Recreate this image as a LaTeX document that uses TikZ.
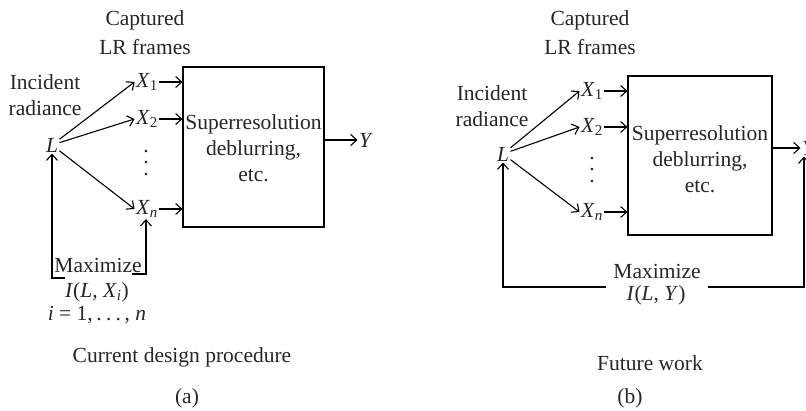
\documentclass[tikz,border=0pt]{standalone}
\usepackage{fontspec}
\setmainfont{Liberation Serif}
\usetikzlibrary{arrows.meta}
\newcommand\vi[1]{\textit{#1}}
\newcommand\Xs[1]{\textit{X}\textsubscript{#1}}
\newcommand\blocktext[1]{\raisebox{#1}[\height][\depth]{\begin{tabular}{@{}c@{}}Superresolution\\deblurring,\\etc.\end{tabular}}}
\newcommand\mydots{.\hspace{0.2em}.\hspace{0.2em}.}
\begin{document}
\begin{tikzpicture}[x=1pt,y=-1pt,
  font=\fontsize{21.5}{26}\selectfont,
  line width=1.1pt,
  arr/.style={-{Straight Barb[length=6pt,width=11pt,line width=1.1pt]}},
  lbl/.style={inner sep=1pt, align=center, text=black!85},
  vdotstyle/.style={inner sep=0pt, align=center, text=black!85, font=\fontsize{21.5}{11.5}\selectfont},
  blk/.style={draw, inner sep=0pt, align=center, text=black!85}]
\useasboundingbox (0,0) rectangle (806,411);

% ---------- panel (a) ----------
\node[lbl] (capA) at (145,33) {Captured\\[3pt]LR frames};
\node[lbl] (incA) at (45,95) {Incident\\radiance};
\node[lbl] (LA) at (52,145) {\vi{L}};
\node[lbl] (X1A) at (147,82) {\Xs{1}};
\node[lbl] (X2A) at (147,119) {\Xs{2}};
\node[vdotstyle] (dA) at (146,163) {.\\.\\.};
\node[lbl] (XnA) at (147,209) {\Xs{\vi{n}}};
\node[blk, minimum width=141pt, minimum height=160pt] (boxA) at (253.5,147) {\blocktext{-3pt}};
\node[lbl] (YA) at (366,140) {\vi{Y}};
\node[lbl] (maxA) at (98,265) {Maximize};
\node[lbl] (iA) at (97,292) {\vi{I}(\vi{L}, \Xs{\vi{i}})};
\node[lbl] (rA) at (97,315) {\vi{i} = 1,\,\mydots\,, \vi{n}};
\node[lbl] (cdA) at (182,357) {Current design procedure};
\node[lbl] (pa) at (187,398) {(a)};

\draw[arr] (LA) -- (X1A.west);
\draw[arr] (LA) -- (X2A.west);
\draw[arr] (LA) -- (XnA.west);
\draw[arr] (X1A.east) -- (X1A.east -| boxA.west);
\draw[arr] (X2A.east) -- (X2A.east -| boxA.west);
\draw[arr] (XnA.east) -- (XnA.east -| boxA.west);
\draw[arr] (boxA.east |- YA) -- (YA.west);

\coordinate (fa1) at (65,278);
\coordinate (fa2) at (52,278);
\coordinate (fa3) at (132,274);
\coordinate (fa4) at (146,274);
\draw[arr] (fa1) -- (fa2) -- (LA.south);
\draw[arr] (fa3) -- (fa4) -- (fa4 |- XnA.south);

% ---------- panel (b) ----------
\node[lbl] (capB) at (590,33) {Captured\\[3pt]LR frames};
\node[lbl] (incB) at (492,106) {Incident\\radiance};
\node[lbl] (LB) at (503,154) {\vi{L}};
\node[lbl] (X1B) at (592,91) {\Xs{1}};
\node[lbl] (X2B) at (592,127) {\Xs{2}};
\node[vdotstyle] (dB) at (592,170) {.\\.\\.};
\node[lbl] (XnB) at (592,212) {\Xs{\vi{n}}};
\node[blk, minimum width=144pt, minimum height=159pt] (boxB) at (700,155.5) {\blocktext{-6pt}};
\node[lbl] (YB) at (809,148) {\vi{Y}};
\node[lbl] (maxB) at (657,271) {Maximize};
\node[lbl] (iB) at (656,295) {\vi{I}(\vi{L}, \vi{Y})};
\node[lbl] (fwB) at (650,363) {Future work};
\node[lbl] (pb) at (630,398) {(b)};

\draw[arr] (LB) -- (X1B.west);
\draw[arr] (LB) -- (X2B.west);
\draw[arr] (LB) -- (XnB.west);
\draw[arr] (X1B.east) -- (X1B.east -| boxB.west);
\draw[arr] (X2B.east) -- (X2B.east -| boxB.west);
\draw[arr] (XnB.east) -- (XnB.east -| boxB.west);
\draw[arr] (boxB.east |- YB) -- (YB.west);

\coordinate (fb1) at (606,287);
\coordinate (fb2) at (503,287);
\coordinate (fb3) at (708,287);
\coordinate (fb4) at (804,287);
\draw[arr] (fb1) -- (fb2) -- (LB.south);
\draw[arr] (fb3) -- (fb4) -- (fb4 |- YB.south);
\end{tikzpicture}
\end{document}
